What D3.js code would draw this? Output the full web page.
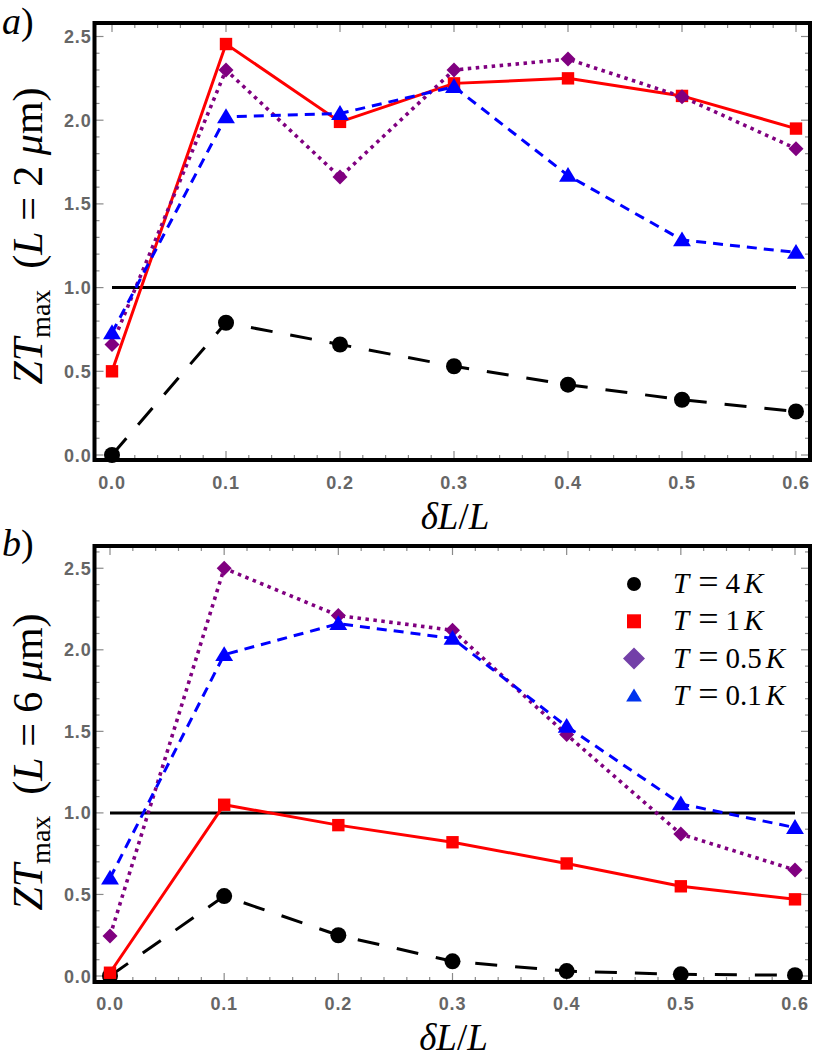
<!DOCTYPE html>
<html lang="en">
<head>
  <meta charset="UTF-8" />
  <title>ZT max vs dL/L</title>
  <script src="https://d3js.org/d3.v7.min.js"></script>
  <style>
    body { margin: 0; background: #fff; }
    .tick-label { font-family: "Liberation Sans", Arial, sans-serif; font-weight: bold; font-size: 18px; fill: #666; letter-spacing: 0.8px; }
    .math { font-family: "Liberation Serif", "Times New Roman", serif; fill: #000; }
  </style>
</head>
<body>
  <div id="chart"></div>

  <script>
    // x values shared by both panels
    const deltaL = [0, 0.1, 0.2, 0.3, 0.4, 0.5, 0.6];

    // panel a) L = 2 um
    const zt2_T4K  = [0.00, 0.79, 0.66, 0.53, 0.42, 0.33, 0.26];
    const zt2_T1K  = [0.50, 2.455, 1.99, 2.22, 2.25, 2.145, 1.95];
    const zt2_T05K = [0.66, 2.30, 1.66, 2.30, 2.365, 2.14, 1.83];
    const zt2_T01K = [0.73, 2.02, 2.04, 2.20, 1.67, 1.285, 1.21];

    // panel b) L = 6 um
    const zt6_T4K  = [0.00, 0.49, 0.25, 0.09, 0.03, 0.01, 0.005];
    const zt6_T1K  = [0.02, 1.05, 0.925, 0.82, 0.69, 0.55, 0.47];
    const zt6_T05K = [0.245, 2.50, 2.21, 2.12, 1.48, 0.87, 0.65];
    const zt6_T01K = [0.60, 1.97, 2.16, 2.07, 1.53, 1.055, 0.91];

    const xTicks = [0, 0.1, 0.2, 0.3, 0.4, 0.5, 0.6];
    const yTicks = [0, 0.5, 1.0, 1.5, 2.0, 2.5];
    const legendLabels = ["4", "1", "0.5", "0.1"];
    const refLevel = 1.0;

    const W = 813, H = 1059;
    const svg = d3.select("#chart").append("svg")
      .attr("width", W).attr("height", H)
      .attr("viewBox", `0 0 ${W} ${H}`);

    // series style: marker + line
    const styles = [
      { color: "#000", dash: "22,18", width: 3, marker: "circle" },
      { color: "#ff0000", dash: null, width: 3, marker: "square" },
      { color: "#800080", dash: "3.5,4.5", width: 3.6, marker: "diamond" },
      { color: "#0000ff", dash: "10,7", width: 3, marker: "triangle" }
    ];

    function markerPath(type, s) {
      if (type === "circle") return d3.symbol(d3.symbolCircle, Math.PI * s * s)();
      if (type === "square") return `M${-s},${-s}H${s}V${s}H${-s}Z`;
      if (type === "diamond") return `M0,${-s}L${s},0L0,${s}L${-s},0Z`;
      return `M0,${-s}L${s * 1.05},${s * 0.75}L${-s * 1.05},${s * 0.75}Z`;
    }
    const markerSize = { circle: 8, square: 6.2, diamond: 7.5, triangle: 8.5 };

    function drawPanel(cfg) {
      const { frame, x0, x06, y0, y1, series, tag, lengthVal, xLabelY, tagY, yLabelCy } = cfg;
      const x = d3.scaleLinear().domain([0, 0.6]).range([x0, x06]);
      const y = d3.scaleLinear().domain([0, 1]).range([y0, y1]);
      const xd = [x.invert(frame.left), x.invert(frame.right)];
      const yd = [y.invert(frame.bottom), y.invert(frame.top)];
      const g = svg.append("g");

      // minor + major ticks (inward, all four sides)
      const xMinor = d3.range(Math.ceil(xd[0] / 0.02), Math.floor(xd[1] / 0.02) + 1).map(i => i * 0.02)
        .filter(v => Math.abs(v * 10 - Math.round(v * 10)) > 1e-6);
      const yMinor = d3.range(Math.ceil(yd[0] / 0.1), Math.floor(yd[1] / 0.1) + 1).map(i => i * 0.1)
        .filter(v => Math.abs(v * 2 - Math.round(v * 2)) > 1e-6);
      const tickG = g.append("g").attr("stroke", "#8a8a8a").attr("stroke-width", 1.2);
      const addX = (vals, len) => vals.forEach(v => {
        tickG.append("line").attr("x1", x(v)).attr("x2", x(v)).attr("y1", frame.bottom).attr("y2", frame.bottom - len);
        tickG.append("line").attr("x1", x(v)).attr("x2", x(v)).attr("y1", frame.top).attr("y2", frame.top + len);
      });
      const addY = (vals, len) => vals.forEach(v => {
        tickG.append("line").attr("y1", y(v)).attr("y2", y(v)).attr("x1", frame.left).attr("x2", frame.left + len);
        tickG.append("line").attr("y1", y(v)).attr("y2", y(v)).attr("x1", frame.right).attr("x2", frame.right - len);
      });
      addX(xTicks, 9); addX(xMinor, 5);
      addY(yTicks, 9); addY(yMinor, 5);

      // tick labels
      g.selectAll(".xl").data(xTicks).enter().append("text")
        .attr("class", "tick-label").attr("text-anchor", "middle")
        .attr("x", d => x(d)).attr("y", xLabelY)
        .text(d => d3.format(".1f")(d));
      g.selectAll(".yl").data(yTicks).enter().append("text")
        .attr("class", "tick-label").attr("text-anchor", "end")
        .attr("x", frame.left - 3).attr("y", d => y(d) + 6.5)
        .text(d => d3.format(".1f")(d));

      // reference line at ZT = 1
      g.append("line")
        .attr("x1", x(0)).attr("x2", x(0.6))
        .attr("y1", y(refLevel)).attr("y2", y(refLevel))
        .attr("stroke", "#000").attr("stroke-width", 3);

      // series
      const line = d3.line().x((d, i) => x(deltaL[i])).y(d => y(d));
      series.forEach((vals, k) => {
        const st = styles[k];
        g.append("path").datum(vals)
          .attr("d", line).attr("fill", "none")
          .attr("stroke", st.color).attr("stroke-width", st.width)
          .attr("stroke-dasharray", st.dash);
        g.selectAll(null).data(vals).enter().append("path")
          .attr("d", markerPath(st.marker, markerSize[st.marker]))
          .attr("transform", (d, i) => `translate(${x(deltaL[i])},${y(d)})`)
          .attr("fill", st.color);
      });

      // frame
      g.append("rect")
        .attr("x", frame.left).attr("y", frame.top)
        .attr("width", frame.right - frame.left).attr("height", frame.bottom - frame.top)
        .attr("fill", "none").attr("stroke", "#000").attr("stroke-width", 4);

      // x label  δL/L
      const xl = g.append("text").attr("class", "math").attr("font-size", 37)
        .attr("text-anchor", "middle").attr("x", (x0 + x06) / 2 + 1).attr("y", xLabelY + 40);
      xl.append("tspan").attr("font-style", "italic").text("δL");
      xl.append("tspan").text("/");
      xl.append("tspan").attr("font-style", "italic").text("L");

      // y label  ZT_max (L = n μm)
      const yl = g.append("text").attr("class", "math").attr("font-size", 42)
        .attr("text-anchor", "middle")
        .attr("transform", `translate(42,${yLabelCy}) rotate(-90)`);
      yl.append("tspan").attr("font-style", "italic").text("ZT");
      yl.append("tspan").attr("font-size", 28).attr("dy", 8).text("max");
      yl.append("tspan").attr("dy", -8).text("\u2002(");
      yl.append("tspan").attr("font-style", "italic").text("L");
      yl.append("tspan").text(` = ${lengthVal} `);
      yl.append("tspan").attr("font-style", "italic").text("μ");
      yl.append("tspan").text("m)");

      // panel tag
      const tg = g.append("text").attr("class", "math").attr("font-size", 38)
        .attr("x", 2).attr("y", tagY);
      tg.append("tspan").attr("font-style", "italic").text(tag);
      tg.append("tspan").text(")");

      return { x, y, g };
    }

    drawPanel({
      frame: { left: 94.5, right: 810, top: 23, bottom: 460 },
      x0: 112, x06: 796, y0: 455, y1: 287.6,
      series: [zt2_T4K, zt2_T1K, zt2_T05K, zt2_T01K],
      tag: "a", lengthVal: "2", xLabelY: 489, tagY: 34, yLabelCy: 236
    });

    drawPanel({
      frame: { left: 94.5, right: 810, top: 546, bottom: 982 },
      x0: 110, x06: 795, y0: 976, y1: 812.9,
      series: [zt6_T4K, zt6_T1K, zt6_T05K, zt6_T01K],
      tag: "b", lengthVal: "6", xLabelY: 1010, tagY: 556, yLabelCy: 762
    });

    // legend (panel b)
    const legendSizes = { circle: 7, square: 7, diamond: 11, triangle: 7.5 };
    const legendFills = ["#000", "#ff0000", "#7340a8", "#0033ee"];
    const lg = svg.append("g");
    legendLabels.forEach((t, i) => {
      const cy = 584 + i * 37.3;
      lg.append("path")
        .attr("d", markerPath(styles[i].marker, legendSizes[styles[i].marker]))
        .attr("transform", `translate(634,${cy})`)
        .attr("fill", legendFills[i]);
      const tx = lg.append("text").attr("class", "math").attr("font-size", 29)
        .attr("x", 673).attr("y", cy + 9);
      tx.append("tspan").attr("font-style", "italic").text("T");
      tx.append("tspan").attr("dx", 9).attr("font-size", 36).attr("dy", 1).text("=");
      tx.append("tspan").attr("dx", 7).attr("dy", -1).text(t);
      tx.append("tspan").attr("dx", 4).attr("font-style", "italic").text("K");
    });
  </script>
</body>
</html>
